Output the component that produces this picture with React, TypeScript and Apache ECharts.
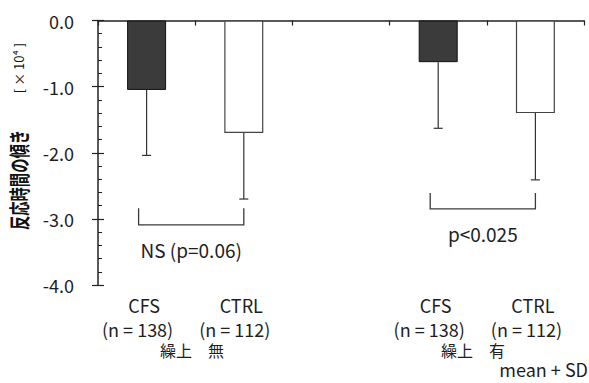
import React, { useEffect, useRef } from "react";
import * as echarts from "echarts";

// Groups along the x axis (the middle slot is an empty spacer between the two conditions)
const categories = ["CFS", "CTRL", "", "CFS", "CTRL"];
const sampleSizes = ["(n = 138)", "(n = 112)", "", "(n = 138)", "(n = 112)"];
const groupKind = ["cfs", "ctrl", "", "cfs", "ctrl"];

// Mean slope of reaction time (×10^4) and its SD
const meanValues = [-1.05, -1.7, null, -0.63, -1.4];
const sdValues = [0.99, 1.0, null, 1.0, 1.01];

// Significance brackets: [left category, right category, top, bottom]
const bracketSpans = [
  [0, 1, -2.84, -3.09],
  [3, 4, -2.61, -2.85],
];
const pLabels = ["NS (p=0.06)", "p<0.025"];
const pLabelY = [-3.47, -3.215];

const conditionLabels = ["繰上　無", "繰上　有"];
const yTitle = "反応時間の傾き";
const yUnit = "[ × 10⁴ ]";

const FONT = "'Noto Sans CJK JP', 'Noto Sans', sans-serif";
const INK = "#1e1e1e";

const barStyles: Record<string, any> = {
  cfs: { color: "#3b3b3b", borderColor: "#111", borderWidth: 1 },
  ctrl: { color: "#ffffff", borderColor: "#444", borderWidth: 1.2 },
};

export default function App() {
  const ref = useRef<HTMLDivElement>(null);

  useEffect(() => {
    if (!ref.current) return;
    const chart = echarts.init(ref.current, null, { renderer: "svg" });

    const barData = meanValues.map((v, i) =>
      v == null ? "-" : { value: v, itemStyle: barStyles[groupKind[i]] }
    );
    const errData = meanValues
      .map((v, i) => (v == null ? null : [i, v, sdValues[i] as number]))
      .filter((d) => d != null);
    const bracketData = bracketSpans.map((b, i) => [b[0], b[2], b[1], b[3], pLabelY[i], i]);

    const option: any = {
      animation: false,
      backgroundColor: "#fff",
      grid: { left: 98, right: 5, top: 20.5, bottom: 98 },
      xAxis: [
        {
          type: "category",
          data: categories,
          position: "bottom",
          axisLine: { show: false, onZero: false },
          axisTick: { show: false },
          axisLabel: {
            interval: 0,
            margin: 8,
            color: INK,
            fontFamily: FONT,
            formatter: (_v: string, idx: number) =>
              categories[idx] ? `{a|${categories[idx]}}\n{b|${sampleSizes[idx]}}` : "",
            rich: {
              a: { fontSize: 18, lineHeight: 24, fontFamily: FONT, color: INK, padding: [0, 5, 0, 0] },
              b: { fontSize: 18, lineHeight: 24, fontFamily: FONT, color: INK, padding: [0, 18, 0, 0] },
            },
          },
        },
        {
          type: "category",
          data: categories,
          position: "top",
          axisLine: { show: true, onZero: false, lineStyle: { color: "#222", width: 1.5 } },
          axisTick: { show: true, inside: true, length: 5, lineStyle: { color: "#222", width: 1.2 } },
          axisLabel: { show: false },
        },
      ],
      yAxis: [
        {
          type: "value",
          min: -4,
          max: 0,
          interval: 1,
          axisLine: { show: true, lineStyle: { color: "#222", width: 1.5 } },
          axisTick: { show: true, inside: true, length: 6, lineStyle: { color: "#222", width: 1.2 } },
          minorTick: { show: true, splitNumber: 5, length: 4, lineStyle: { color: "#222", width: 1 } },
          splitLine: { show: false },
          axisLabel: {
            margin: 24,
            fontSize: 18,
            fontFamily: FONT,
            color: INK,
            formatter: (v: number) => v.toFixed(1),
          },
        },
        {
          type: "value",
          min: -4,
          max: 0,
          interval: 1,
          position: "left",
          axisLine: { show: false },
          axisTick: { show: true, inside: false, length: 6, lineStyle: { color: "#222", width: 1.2 } },
          splitLine: { show: false },
          axisLabel: { show: false },
        },
      ],
      series: [
        {
          type: "bar",
          xAxisIndex: 0,
          yAxisIndex: 0,
          barWidth: 39,
          data: barData,
        },
        {
          // SD whiskers hanging below each bar
          type: "custom",
          xAxisIndex: 0,
          yAxisIndex: 0,
          z: 5,
          data: errData,
          encode: { x: 0, y: 1 },
          renderItem: (_params: any, api: any) => {
            const x = api.value(0);
            const m = api.value(1);
            const sd = api.value(2);
            const p0 = api.coord([x, m]);
            const p1 = api.coord([x, m - sd]);
            const cap = 4.5;
            return {
              type: "group",
              children: [
                { type: "line", shape: { x1: p0[0], y1: p0[1], x2: p1[0], y2: p1[1] }, style: { stroke: "#333", lineWidth: 1.2 } },
                { type: "line", shape: { x1: p1[0] - cap, y1: p1[1], x2: p1[0] + cap, y2: p1[1] }, style: { stroke: "#333", lineWidth: 1.2 } },
              ],
            };
          },
        },
        {
          // Comparison brackets with their p-value labels
          type: "custom",
          xAxisIndex: 0,
          yAxisIndex: 0,
          z: 5,
          data: bracketData,
          encode: { x: 0, y: 1 },
          renderItem: (_params: any, api: any) => {
            const from = api.value(0);
            const top = api.value(1);
            const to = api.value(2);
            const bottom = api.value(3);
            const ly = api.value(4);
            const idx = api.value(5);
            const lt = api.coord([from, top]);
            const lb = api.coord([from, bottom]);
            const rt = api.coord([to, top]);
            const xl = lt[0] - 8;
            const xr = rt[0];
            const lab = api.coord([from, ly]);
            return {
              type: "group",
              children: [
                {
                  type: "polyline",
                  shape: { points: [[xl, lt[1]], [xl, lb[1]], [xr, lb[1]], [xr, rt[1]]] },
                  style: { stroke: "#3a3a3a", lineWidth: 1.3, fill: "none" },
                },
                {
                  type: "text",
                  style: {
                    text: pLabels[idx],
                    x: (xl + xr) / 2,
                    y: lab[1],
                    align: "center",
                    verticalAlign: "middle",
                    font: `19px ${FONT}`,
                    fill: INK,
                  },
                },
              ],
            };
          },
        },
      ],
      graphic: [
        {
          type: "text",
          x: 18,
          y: 180,
          rotation: Math.PI / 2,
          scaleX: 0.68,
          style: {
            text: yTitle,
            align: "center",
            verticalAlign: "middle",
            font: `bold 21px ${FONT}`,
            fill: "#111",
          },
        },
        {
          type: "text",
          x: 18,
          y: 68,
          rotation: Math.PI / 2,
          style: {
            text: yUnit,
            align: "center",
            verticalAlign: "middle",
            font: `13px ${FONT}`,
            fill: "#111",
          },
        },
        ...conditionLabels.map((t, i) => ({
          type: "text",
          x: i === 0 ? 192 : 473,
          y: 350,
          style: {
            text: t,
            align: "center",
            verticalAlign: "middle",
            font: `16px ${FONT}`,
            fill: INK,
          },
        })),
        {
          type: "text",
          x: 588,
          y: 369,
          style: {
            text: "mean + SD",
            align: "right",
            verticalAlign: "middle",
            font: `18px ${FONT}`,
            fill: INK,
          },
        },
      ],
    };

    chart.setOption(option);
    return () => chart.dispose();
  }, []);

  return (
    <div
      ref={ref}
      style={{ position: "fixed", left: 0, top: 0, width: 589, height: 383, background: "#fff" }}
    />
  );
}
